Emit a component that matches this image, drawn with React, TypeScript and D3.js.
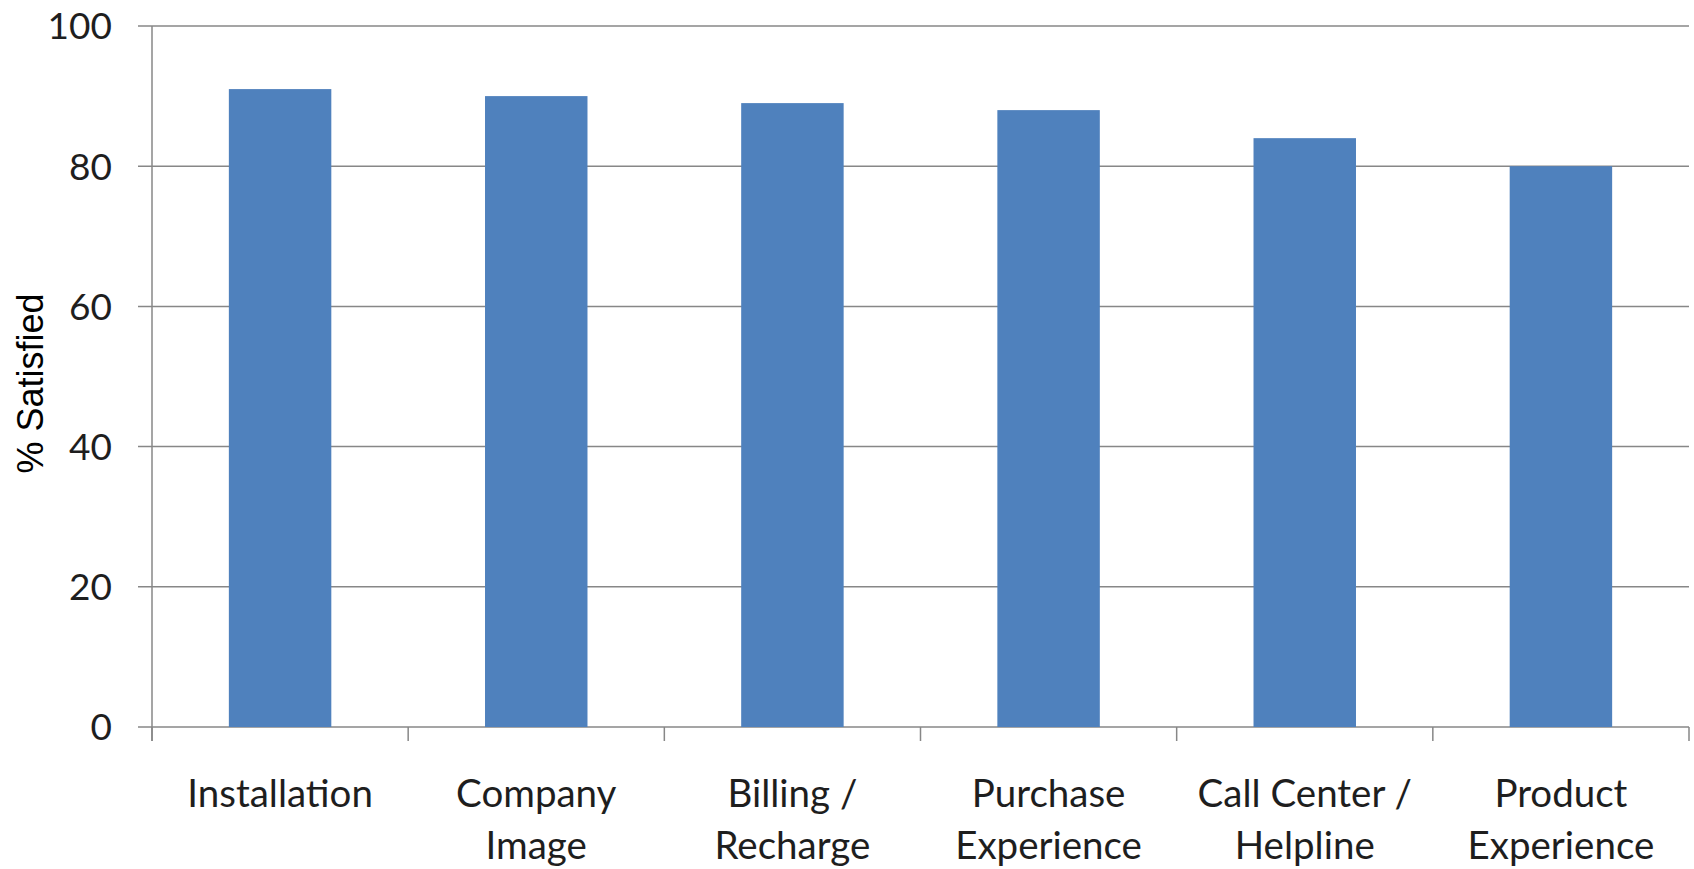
import React from "react";
import * as d3 from "d3";

const categories = [
  "Installation",
  "Company Image",
  "Billing / Recharge",
  "Purchase Experience",
  "Call Center / Helpline",
  "Product Experience",
];

const categoryLines = [
  ["Installation"],
  ["Company", "Image"],
  ["Billing /", "Recharge"],
  ["Purchase", "Experience"],
  ["Call Center /", "Helpline"],
  ["Product", "Experience"],
];

const satisfied = [91, 90, 89, 88, 84, 80];

const yTicks = [0, 20, 40, 60, 80, 100];

const W = 1694;
const H = 869;
const margin = { top: 26, right: 5, bottom: 142, left: 152 };

const App = () => {
  const x = d3
    .scaleBand<string>()
    .domain(categories)
    .range([margin.left, W - margin.right])
    .paddingInner(0.6)
    .paddingOuter(0.3);

  const y = d3
    .scaleLinear()
    .domain([0, 100])
    .range([H - margin.bottom, margin.top]);

  const step = x.step();
  const gridColor = "#878787";
  const labelFont = "Lato, 'Open Sans', sans-serif";

  // category boundaries for tick marks
  const bounds = d3.range(categories.length + 1).map((i) => margin.left + i * step);

  return (
    <svg
      width={W}
      height={H}
      style={{ position: "absolute", left: 0, top: 0, background: "#fff" }}
    >
      {/* gridlines */}
      {yTicks.map((t) => (
        <g key={t}>
          <line
            x1={margin.left - 14}
            x2={W - margin.right}
            y1={y(t)}
            y2={y(t)}
            stroke={gridColor}
            strokeWidth={1.5}
          />
          <text
            x={112}
            y={y(t)}
            dy="0.36em"
            textAnchor="end"
            fontFamily={labelFont}
            fontSize={37}
            fill="#1e1e1e"
          >
            {t}
          </text>
        </g>
      ))}

      {/* y axis */}
      <line
        x1={margin.left}
        x2={margin.left}
        y1={margin.top}
        y2={y(0) + 14}
        stroke={gridColor}
        strokeWidth={1.5}
      />

      {/* x ticks */}
      {bounds.map((b, i) => (
        <line
          key={i}
          x1={b}
          x2={b}
          y1={y(0)}
          y2={y(0) + 14}
          stroke={gridColor}
          strokeWidth={1.5}
        />
      ))}

      {/* bars */}
      {categories.map((c, i) => (
        <rect
          key={c}
          x={x(c)}
          y={y(satisfied[i])}
          width={x.bandwidth()}
          height={y(0) - y(satisfied[i])}
          fill="#4f81bd"
        />
      ))}

      {/* category labels */}
      {categories.map((c, i) => (
        <text
          key={c}
          x={(x(c) ?? 0) + x.bandwidth() / 2}
          y={807}
          textAnchor="middle"
          fontFamily={labelFont}
          fontSize={38.5}
          fill="#1e1e1e"
        >
          {categoryLines[i].map((line, j) => (
            <tspan key={j} x={(x(c) ?? 0) + x.bandwidth() / 2} dy={j === 0 ? 0 : 52}>
              {line}
            </tspan>
          ))}
        </text>
      ))}

      {/* y axis title */}
      <text
        transform={`translate(43, ${(margin.top + y(0)) / 2 + 7}) rotate(-90)`}
        textAnchor="middle"
        fontFamily="'Liberation Sans', Arial, sans-serif"
        fontSize={36}
        fill="#000"
      >
        % Satisfied
      </text>
    </svg>
  );
};

export default App;
